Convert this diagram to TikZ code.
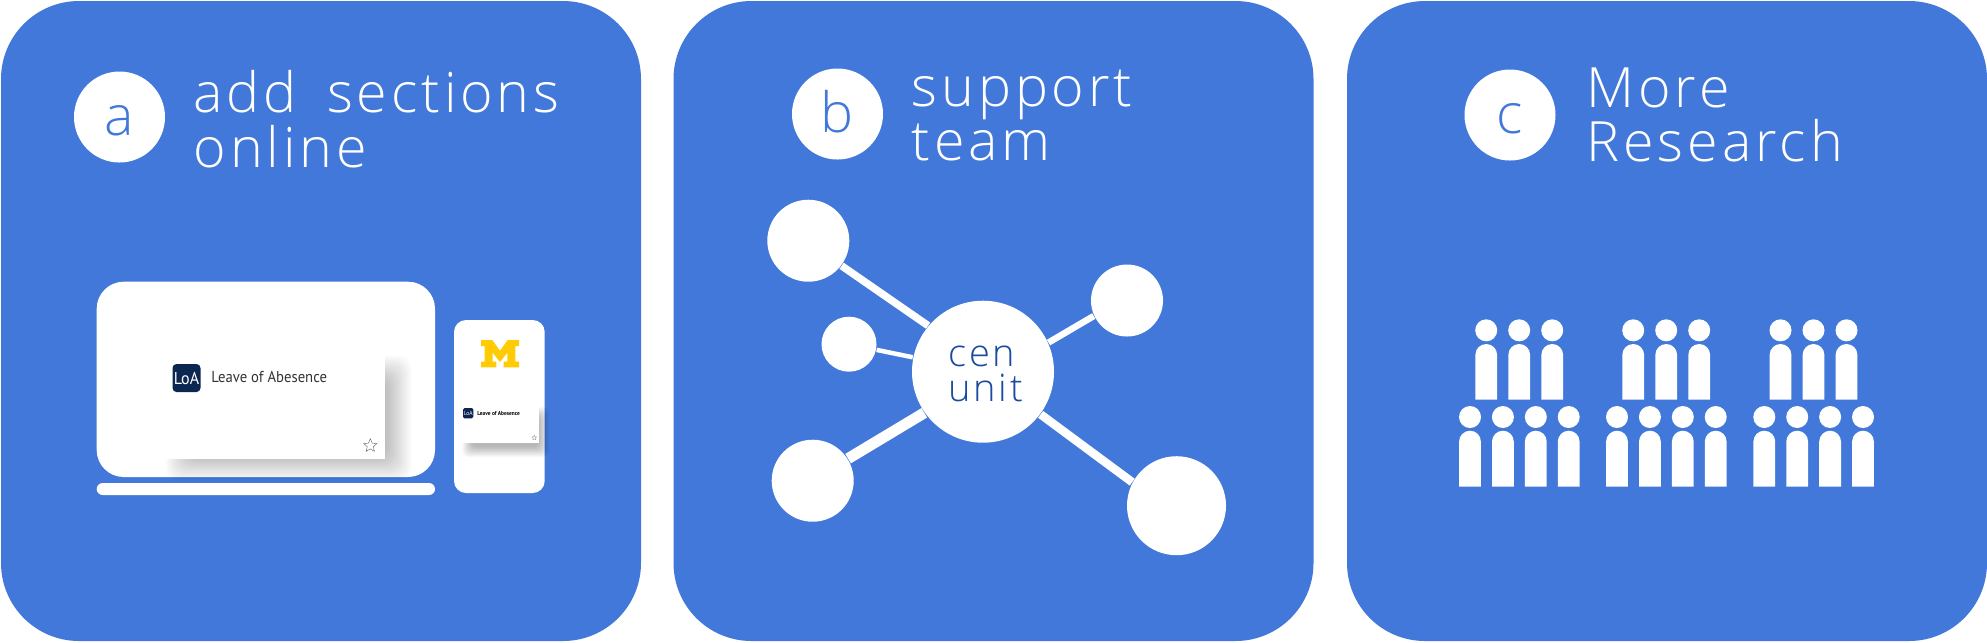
\documentclass[tikz,border=0pt]{standalone}
\usepackage{fontspec}
\usetikzlibrary{shapes.geometric}
\newfontfamily\titlefont[LetterSpace=7,WordSpace=1.65]{Open Sans Light}
\newfontfamily\cardfont[FakeStretch=.93]{PT Sans}
\definecolor{panelblue}{HTML}{4278D9}
\definecolor{hubblue}{HTML}{184A9E}
\definecolor{iconnavy}{HTML}{0C2652}
\definecolor{maize}{HTML}{FFCB05}
\tikzset{
  panel/.style={fill=panelblue, rounded corners=7.8mm, minimum width=64cm/10, minimum height=64cm/10, inner sep=0pt},
  badge/.style={circle, fill=white, text=panelblue, minimum size=9.1mm, inner sep=0pt, text height=3.6mm, text depth=0pt, font=\titlefont\fontsize{15.8}{15.4}\selectfont},
  heading/.style={text=white, anchor=north west, align=left, inner sep=0pt, font=\titlefont\fontsize{15.8}{15.4}\selectfont},
  blob/.style={circle, fill=white, inner sep=0pt},
  link/.style={draw=white},
  shadowlayer/.style={fill=black, opacity=.02, rounded corners=1.2mm},
  cardbox/.style={fill=white, inner sep=0pt}
}
\begin{document}
\begin{tikzpicture}[x=0.1mm, y=-0.1mm]
    \useasboundingbox (0,0) rectangle (1987,642);

    % panels
    \node[panel] (panela) at (321,321) {};
    \node[panel] (panelb) at (993.5,321) {};
    \node[panel] (panelc) at (1667,321) {};

    \node[badge] (badgea) at (119.5,117) {a};
    \node[badge] (badgeb) at (837.5,114) {b};
    \node[badge] (badgec) at (1510,115) {c};
    \node[heading] (titlea) at (193,70) {add sections\\online};
    \node[heading] (titleb) at (911,69) {support\\team};
    \node[heading] (titlec) at (1586,67) {More\\Research};

    % laptop and phone
    \fill[white, rounded corners=2.7mm] (96.7,281.7) rectangle (435,477);
    \fill[white, rounded corners=0.6mm] (96.7,483) rectangle (435,495);
    \fill[white, rounded corners=1.2mm] (454,320) rectangle (544.7,493);

    \foreach \s in {0,...,14}
        \fill[shadowlayer] ({166+2*\s},{356+2*\s}) rectangle ({411-2*\s},{481-2*\s});
    \foreach \s in {0,...,14}
        \fill[shadowlayer, rounded corners=0.5mm] ({462+.75*\s},{407+.75*\s}) rectangle ({549-.75*\s},{457-.75*\s});

    % big card
    \node[cardbox, minimum width=22.27mm, minimum height=10.53mm] (card) at (273.6,406.6) {};
    \node[fill=iconnavy, text=white, rounded corners=0.4mm, minimum size=2.8mm, inner sep=0pt, font=\cardfont\fontsize{4.9}{5}\selectfont] (cardicon) at (186.5,378) {LoA};
    \node[text=black!80, anchor=west, inner sep=0pt, font=\cardfont\fontsize{4.5}{5}\selectfont] (cardtitle) at (210.7,377) {Leave of Abesence};
    \node[star, star points=5, star point ratio=2.2, draw=black!70, line width=0.1pt, minimum size=1.4mm, inner sep=0pt] (cardstar) at (370.3,445.7) {};

    % small card
    \node[cardbox, minimum width=8mm, minimum height=3.8mm] (minicard) at (499.3,423.7) {};
    \node[fill=iconnavy, text=white, rounded corners=0.15mm, minimum size=1.03mm, inner sep=0pt, font=\cardfont\fontsize{1.7}{2}\selectfont] (miniicon) at (468.2,413.2) {LoA};
    \node[text=black, anchor=west, inner sep=0pt, font=\cardfont\fontsize{1.65}{2}\selectfont\bfseries] (minititle) at (476.7,413.3) {Leave of Abesence};
    \node[star, star points=5, star point ratio=2.2, draw=black!40, line width=0.1pt, minimum size=0.5mm, inner sep=0pt] (ministar) at (534.3,437.7) {};

    % block M
    \fill[maize, shift={(481,340)}] (0,0) -- (11.3,0) -- (19,10.7) -- (26.7,0) -- (38,0) -- (38,6) -- (34.3,6) -- (34.3,21.7) -- (38,21.7) -- (38,27.3) -- (22.7,27.3) -- (22.7,21.7) -- (26.3,21.7) -- (26.3,12.7) -- (19,22) -- (11.7,12.7) -- (11.7,21.7) -- (15.3,21.7) -- (15.3,27.3) -- (0,27.3) -- (0,21.7) -- (3.7,21.7) -- (3.7,6) -- (0,6) -- cycle;

    % network
    \node[blob, minimum size=14.2mm] (hub) at (983,371.7) {};
    \node[text=hubblue, anchor=north west, align=left, inner sep=0pt, font=\titlefont\fontsize{10.8}{9.9}\selectfont] (hubtext) at (948,345) {cen\\unit};
    \node[blob, minimum size=8.2mm] (nodetl) at (808.3,240.7) {};
    \node[blob, minimum size=7.2mm] (nodetr) at (1127,300.5) {};
    \node[blob, minimum size=5.5mm] (nodeleft) at (849,344.2) {};
    \node[blob, minimum size=8.2mm] (nodebl) at (812.7,480.7) {};
    \node[blob, minimum size=9.9mm] (nodebr) at (1176.5,505.7) {};
    \draw[link, line width=0.75mm] (hub.140) -- (nodetl.-37);
    \draw[link, line width=0.65mm] (hub.24) -- (nodetr.205);
    \draw[link, line width=0.45mm] (hub) -- (nodeleft);
    \draw[link, line width=1.1mm] (hub.215) -- (nodebl.32);
    \draw[link, line width=0.85mm] (hub) -- (nodebr.152);

    % people
    \foreach \g in {0,147,294.3} {
        \foreach \i in {0,1,2} {
            \fill[white] ({1486.2+\g+33*\i},330.3) circle (1.1mm);
            \fill[white] ({1475.3+\g+33*\i},399.7) -- ({1475.3+\g+33*\i},354.9) arc (180:0:1.09mm) -- ({1497.1+\g+33*\i},399.7) -- cycle;
        }
        \foreach \i in {0,1,2,3} {
            \fill[white] ({1470+\g+32.9*\i},417) circle (1.1mm);
            \fill[white] ({1459.1+\g+32.9*\i},486.7) -- ({1459.1+\g+32.9*\i},441.6) arc (180:0:1.09mm) -- ({1480.9+\g+32.9*\i},486.7) -- cycle;
        }
    }
\end{tikzpicture}
\end{document}
